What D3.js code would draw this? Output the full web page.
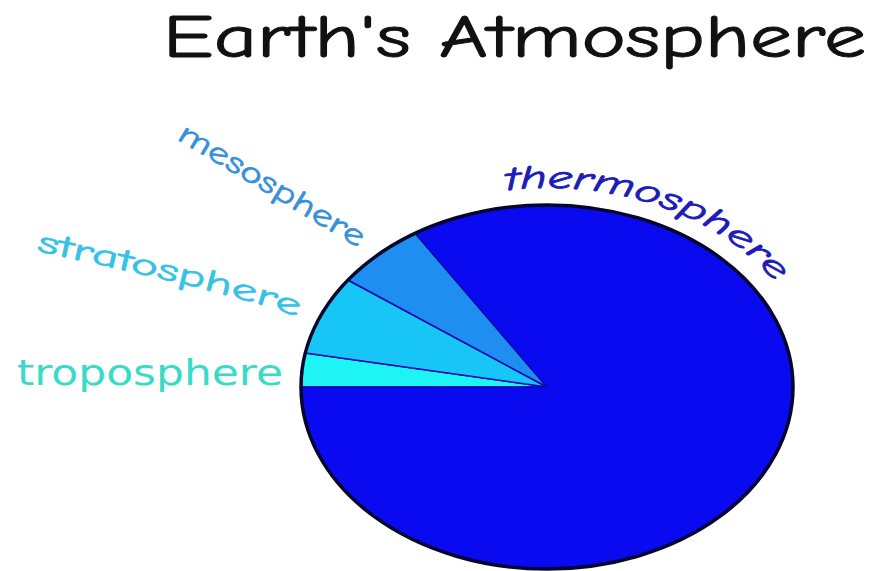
<!DOCTYPE html>
<html>
<head>
<meta charset="utf-8">
<script src="https://cdn.jsdelivr.net/npm/d3@7"></script>
<style>
  html, body { margin: 0; padding: 0; background: #ffffff; }
  svg { display: block; }
  .hand { font-family: "Comic Sans MS", "Comic Neue", "DejaVu Sans", sans-serif; }
</style>
</head>
<body>
<script>
// Layers of the atmosphere and their share of the pie
const layers = ["troposphere", "stratosphere", "mesosphere", "thermosphere"];
const shares = [3, 7, 6, 84];
const title = "Earth's Atmosphere";

const sliceColors = ["#1ef4f4", "#17c6f6", "#1e8ff0", "#0a0af0"];
const labelColors = ["#36dcc6", "#36c2e6", "#3690dc", "#1c1cb8"];

const W = 875, H = 571;
const cx = 547, cy = 387, rx = 246, ry = 182;
const R = 100; // unit radius, stretched into the ellipse

const svg = d3.select("body").append("svg")
  .attr("width", W).attr("height", H)
  .attr("viewBox", `0 0 ${W} ${H}`);

// Title
svg.append("text")
  .attr("class", "hand")
  .attr("x", 163).attr("y", 57)
  .attr("font-size", 60)
  .attr("fill", "#111")
  .attr("stroke", "#111")
  .attr("stroke-width", 1)
  .attr("textLength", 703)
  .attr("lengthAdjust", "spacingAndGlyphs")
  .text(title);

// Pie, starting at 9 o'clock and running clockwise
const pie = d3.pie().sort(null)
  .startAngle(-Math.PI / 2).endAngle(Math.PI * 1.5)
  .value(d => d.v);
const arcs = pie(layers.map((k, i) => ({ k, v: shares[i], i })));
const arc = d3.arc().innerRadius(0).outerRadius(R);

const g = svg.append("g")
  .attr("transform", `translate(${cx},${cy}) scale(${rx / R},${ry / R})`);

g.selectAll("path.slice")
  .data(arcs)
  .join("path")
  .attr("class", "slice")
  .attr("d", arc)
  .attr("fill", d => sliceColors[d.data.i])
  .attr("stroke", "#0a0ab0")
  .attr("stroke-width", 1.5)
  .attr("stroke-linejoin", "round")
  .attr("vector-effect", "non-scaling-stroke");

// Outline of the whole pie
g.append("ellipse")
  .attr("cx", 0).attr("cy", 0).attr("rx", R).attr("ry", R)
  .attr("fill", "none")
  .attr("stroke", "#05052e")
  .attr("stroke-width", 3.5)
  .attr("vector-effect", "non-scaling-stroke");

// Label guides
const defs = svg.append("defs");

// thermosphere follows an ellipse just outside the pie
const erx = rx + 22, ery = ry + 17;
const phi0 = -0.157, phi1 = 1.02;
const ePt = p => [cx + erx * Math.sin(p), cy - ery * Math.cos(p)];
const [tx0, ty0] = ePt(phi0), [tx1, ty1] = ePt(phi1);
defs.append("path").attr("id", "guide-thermo")
  .attr("d", `M${tx0},${ty0} A${erx},${ery} 0 0 1 ${tx1},${ty1}`);

// stratosphere bends gently toward the pie
defs.append("path").attr("id", "guide-strato")
  .attr("d", "M36,251 Q255,298 301,319");

// troposphere: straight
svg.append("text")
  .attr("x", 17).attr("y", 385)
  .attr("font-family", "Verdana, 'DejaVu Sans', sans-serif")
  .attr("font-size", 35)
  .attr("fill", labelColors[0])
  .attr("textLength", 266)
  .attr("lengthAdjust", "spacingAndGlyphs")
  .text(layers[0]);

// stratosphere: on a curve
svg.append("text")
  .attr("class", "hand")
  .attr("font-size", 31)
  .attr("fill", labelColors[1])
  .attr("stroke", labelColors[1])
  .attr("stroke-width", 0.6)
  .append("textPath")
  .attr("href", "#guide-strato")
  .attr("textLength", 270)
  .attr("lengthAdjust", "spacingAndGlyphs")
  .text(layers[1]);

// mesosphere: rotated straight line
const mx0 = 176, my0 = 139, mx1 = 358, my1 = 248;
const mAng = Math.atan2(my1 - my0, mx1 - mx0) * 180 / Math.PI;
svg.append("text")
  .attr("class", "hand")
  .attr("transform", `translate(${mx0},${my0}) rotate(${mAng})`)
  .attr("font-size", 31)
  .attr("fill", labelColors[2])
  .attr("stroke", labelColors[2])
  .attr("stroke-width", 0.6)
  .attr("textLength", Math.hypot(mx1 - mx0, my1 - my0))
  .attr("lengthAdjust", "spacingAndGlyphs")
  .text(layers[2]);

// thermosphere: along the rim
const thermoLen = svg.select("#guide-thermo").node().getTotalLength();
svg.append("text")
  .attr("class", "hand")
  .attr("font-size", 33)
  .attr("font-style", "italic")
  .attr("fill", labelColors[3])
  .attr("stroke", labelColors[3])
  .attr("stroke-width", 0.8)
  .append("textPath")
  .attr("href", "#guide-thermo")
  .attr("textLength", thermoLen)
  .attr("lengthAdjust", "spacingAndGlyphs")
  .text(layers[3]);
</script>
</body>
</html>
